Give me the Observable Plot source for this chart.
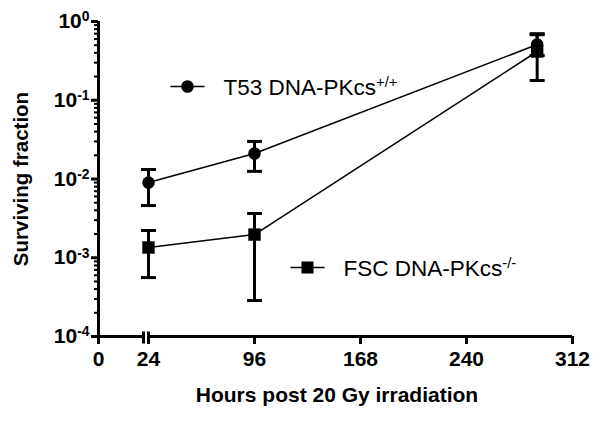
<!DOCTYPE html>
<html>
<head>
<meta charset="utf-8">
<script src="https://cdn.jsdelivr.net/npm/d3@7"></script>
<script src="https://cdn.jsdelivr.net/npm/@observablehq/plot@0.6"></script>
<style>
  html, body { margin: 0; padding: 0; background: #fff; }
  #chart { width: 601px; height: 421px; }
</style>
</head>
<body>
<div id="chart"></div>
<script>
// ---- data ----
const hours = [24, 96, 288];
const t53   = [0.0090, 0.0211, 0.51];
const t53Lo = [0.0046, 0.0125, 0.37];
const t53Hi = [0.0132, 0.030, 0.70];
const fsc   = [0.00135, 0.00197, 0.416];
const fscLo = [0.00056, 0.000286, 0.178];
const fscHi = [0.00222, 0.00365, 0.68];

const seriesNames = ["T53 DNA-PKcs^+/+", "FSC DNA-PKcs^-/-"];
const seriesSymbols = ["circle", "square"];

const xTicks = [0, 24, 96, 168, 240, 312];
const xSegments = [[0, 22], [24, 312]];
const yTicks = [1e-4, 1e-3, 1e-2, 1e-1, 1];

// ---- tables ----
const rows = [];
hours.forEach((h, i) => {
  rows.push({series: seriesNames[0], sym: seriesSymbols[0], h, v: t53[i], lo: t53Lo[i], hi: t53Hi[i]});
  rows.push({series: seriesNames[1], sym: seriesSymbols[1], h, v: fsc[i], lo: fscLo[i], hi: fscHi[i]});
});
const yMinor = [];
yTicks.slice(0, -1).forEach(d => { for (let k = 2; k <= 9; k++) yMinor.push(d * k); });
const breaks = [xSegments[0][1], xSegments[1][0]];

// broken x axis: the first segment (0..22) is compressed, a small gap, then 24..312 linear
const segScale = 424 / 288;               // px per hour on the main segment
const f22 = 24 - 5 / segScale;            // end of first segment, in main-segment units
const f0 = 24 - 50 / segScale;            // position of 0, in main-segment units
const xWarp = h => h >= 24 ? h
  : h >= 22 ? f22 + (h - 22) * (24 - f22) / 2
  : f0 + h * (f22 - f0) / 22;

const hline = (w) => ({draw(ctx) { ctx.moveTo(-w, 0); ctx.lineTo(w, 0); }});
const vline = (a, b) => ({draw(ctx) { ctx.moveTo(0, -a); ctx.lineTo(0, b); }});

const legendPos = [{dx: 89, dy: 65}, {dx: 209, dy: 246}];
const legendMarks = seriesNames.flatMap((name, i) => [
  Plot.dot([name], {frameAnchor: "top-left", dx: legendPos[i].dx, dy: legendPos[i].dy,
    symbol: hline(17), stroke: "black", strokeWidth: 1.6, fill: "none"}),
  Plot.dot([name], {frameAnchor: "top-left", dx: legendPos[i].dx, dy: legendPos[i].dy,
    symbol: seriesSymbols[i], r: seriesSymbols[i] === "circle" ? 6.3 : 6.8, fill: "black", stroke: "none"}),
  Plot.text([name], {frameAnchor: "top-left", dx: legendPos[i].dx + 36, dy: legendPos[i].dy + 1,
    text: d => d, textAnchor: "start", lineAnchor: "middle", fontSize: 22.5, fill: "black",
    ariaLabel: "legend-text"})
]);

const chart = Plot.plot({
  width: 601,
  height: 421,
  marginLeft: 98,
  marginRight: 29,
  marginTop: 21,
  marginBottom: 85,
  style: {fontFamily: "'Liberation Sans', Arial, sans-serif", background: "#fff", color: "#000"},
  x: {type: "linear", transform: xWarp},
  y: {type: "log", domain: [1e-4, 1]},
  marks: [
    // axis lines
    Plot.ruleX([0], {x: d => d, strokeWidth: 3, stroke: "black"}),
    ...xSegments.map(s => Plot.ruleY([yTicks[0]], {x1: s[0], x2: s[1], strokeWidth: 3, stroke: "black"})),
    Plot.dot(breaks, {x: d => d, y: yTicks[0], symbol: vline(5, 7), stroke: "black", strokeWidth: 3, fill: "none"}),
    // axes
    Plot.axisX(xTicks, {tickSize: 8, tickPadding: 7, strokeWidth: 3, fontSize: 21, fontWeight: "bold",
      tickFormat: d => String(d), label: null}),
    Plot.axisY(yMinor, {tickSize: 4, strokeWidth: 2, tickFormat: () => "", label: null}),
    Plot.axisY(yTicks, {tickSize: 7, tickPadding: 2, strokeWidth: 3, fontSize: 21, fontWeight: "bold",
      tickFormat: d => "10^" + Math.round(Math.log10(d)), label: null}),
    // titles
    Plot.text(["Surviving fraction"], {frameAnchor: "left", dx: -77, rotate: -90, text: d => d,
      fontSize: 20.5, fontWeight: "bold", lineAnchor: "middle", textAnchor: "middle", fill: "black"}),
    Plot.text(["Hours post 20 Gy irradiation"], {frameAnchor: "bottom", dx: 1.5, dy: 59, text: d => d,
      fontSize: 21, fontWeight: "bold", lineAnchor: "middle", textAnchor: "middle", fill: "black"}),
    // data
    Plot.line(rows, {x: "h", y: "v", z: "series", stroke: "black", strokeWidth: 1.6}),
    Plot.ruleX(rows, {x: "h", y1: "lo", y2: "hi", stroke: "black", strokeWidth: 3}),
    Plot.dot(rows, {x: "h", y: "lo", symbol: hline(7.5), stroke: "black", strokeWidth: 3, fill: "none"}),
    Plot.dot(rows, {x: "h", y: "hi", symbol: hline(7.5), stroke: "black", strokeWidth: 3, fill: "none"}),
    Plot.dot(rows.filter(d => d.sym === "square"), {x: "h", y: "v", symbol: "square", r: 7, fill: "black"}),
    Plot.dot(rows.filter(d => d.sym === "circle"), {x: "h", y: "v", symbol: "circle", r: 6.3, fill: "black"}),
    ...legendMarks
  ]
});

document.getElementById("chart").appendChild(chart);

// superscripts: "base^sup"
const ns = "http://www.w3.org/2000/svg";
chart.querySelectorAll("text").forEach(t => {
  const s = t.textContent;
  if (!s.includes("^")) return;
  const [a, b] = s.split("^");
  const isLegend = !!t.closest("[aria-label='legend-text']");
  const fs = parseFloat(getComputedStyle(t).fontSize) || 21;
  t.textContent = a;
  const ts = document.createElementNS(ns, "tspan");
  ts.setAttribute("font-size", (isLegend ? 0.76 : 0.66) * fs);
  ts.setAttribute("dy", -(isLegend ? 0.42 : 0.33) * fs);
  ts.textContent = b;
  t.appendChild(ts);
});
</script>
</body>
</html>
